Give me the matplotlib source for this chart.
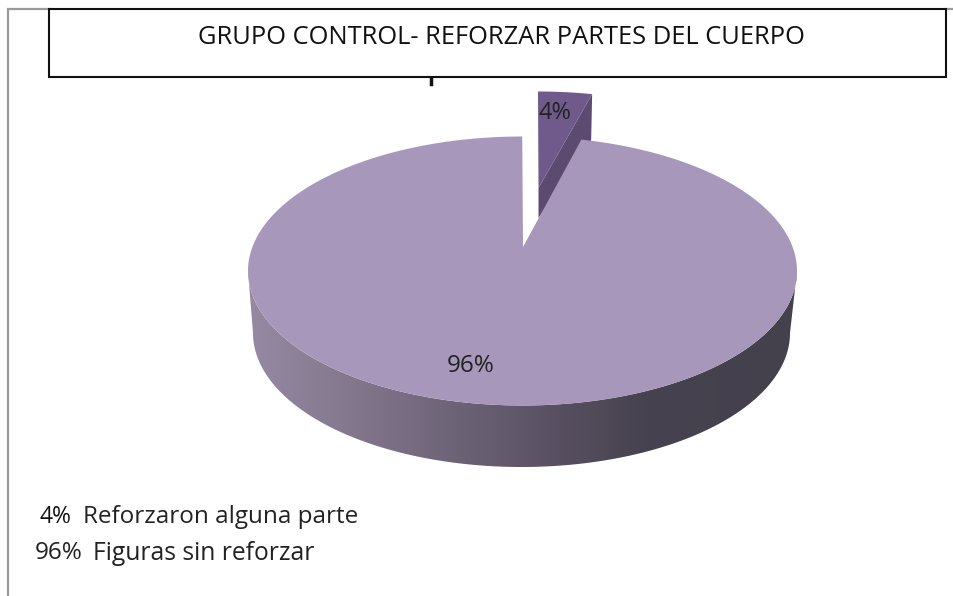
import numpy as np
import matplotlib
matplotlib.use("Agg")
import matplotlib.pyplot as plt
from matplotlib.colors import LinearSegmentedColormap
from matplotlib.patches import Polygon, Rectangle

# --- data ---
title = "GRUPO CONTROL- REFORZAR PARTES DEL CUERPO"
categories = ["Reforzaron alguna parte", "Figuras sin reforzar"]
percentages = [4, 96]

# --- styles ---
TOP_BIG = "#a798bb"
TOP_SMALL = "#705a8c"
SIDE_SMALL = "#5c4a70"
FONT = "Open Sans"
TEXT = "#222222"

fig = plt.figure(figsize=(9.54, 5.96), dpi=100)
ax = fig.add_axes([0, 0, 1, 1])
ax.axis("off")

# 3D pie geometry (pixel units)
cx, cy, rx, ry = 522.5, 271.0, 274.5, 134.5
bottom_cx, bottom_cy, bottom_rx, bottom_ry = 521.5, 333.0, 268.5, 134.0
apex = (523.0, 247.0)
sweep = np.deg2rad(percentages[0] / sum(percentages) * 360)


def ellipse(theta, x0, y0, a, b):
    # theta measured clockwise from the top
    return x0 + a * np.sin(theta), y0 - b * np.cos(theta)


# exploded small slice: side first, then top
t = np.linspace(0, sweep * 0.79, 30)
sx, sy = ellipse(t, cx + 15.5, cy - 45, rx, ry)
sx_end, sy_end = sx[-1], sy[-1]
ax.add_patch(Polygon([(sx_end, sy_end), (sx_end - 1, sy_end + 46),
                      (538.5, 218), (538.5, 188)], closed=True,
                     fc=SIDE_SMALL, ec="none", zorder=2))
ax.add_patch(Polygon(list(zip(sx, sy)) + [(538.5, 188)], closed=True,
                     fc=TOP_SMALL, ec="none", zorder=3))

# big slice wall with horizontal gradient
t = np.linspace(np.pi / 2, 3 * np.pi / 2, 200)
tx, ty = ellipse(t, cx, cy, rx, ry)
bx, by = ellipse(t, bottom_cx, bottom_cy, bottom_rx, bottom_ry)
wall_pts = np.r_[np.c_[tx, ty], np.c_[bx, by][::-1]]
wall = Polygon(wall_pts, closed=True, fc="none", ec="none", zorder=4,
               transform=ax.transData)
ax.add_patch(wall)
cmap = LinearSegmentedColormap.from_list(
    "wall", [(0.0, "#958aa3"), (0.17, "#85798f"), (0.5, "#5f5669"),
             (0.72, "#47424f"), (1.0, "#44404c")])
img = ax.imshow(np.linspace(0, 1, 256)[None, :], cmap=cmap, aspect="auto",
                extent=(248, 797, 480, 270), zorder=4, interpolation="bilinear")
img.set_clip_path(wall)

# big slice top
t = np.linspace(sweep * 0.86, 2 * np.pi - 0.001, 500)
px, py = ellipse(t, cx, cy, rx, ry)
ax.add_patch(Polygon(np.r_[np.c_[px, py], [apex]], closed=True,
                     fc=TOP_BIG, ec="none", zorder=5))

# frame lines
ax.plot([8, 8, 50], [596, 9, 9], color="#9a9a9a", lw=1.6, zorder=1,
        solid_joinstyle="miter")
ax.plot([946, 954], [9, 9], color="#9a9a9a", lw=1.6, zorder=1)
ax.plot([431, 431], [77, 84], color="#111111", lw=2.5, zorder=1)

# title box
ax.add_patch(Rectangle((49.5, 8.5), 896.5, 68.5, fc="white", ec="#111111",
                       lw=1.5, zorder=6))
ax.text(501, 38, title, ha="center", va="center", fontsize=18.4,
        family=FONT, color="#111111", zorder=7)

# data labels
ax.text(555, 113, f"{percentages[0]}%", ha="center", va="center",
        fontsize=17, family=FONT, color=TEXT, zorder=7)
ax.text(470.5, 366, f"{percentages[1]}%", ha="center", va="center",
        fontsize=17.5, family=FONT, color=TEXT, zorder=7)

# legend text
ax.text(40, 517, f"{percentages[0]}%", ha="left", va="center",
        fontsize=16.5, family=FONT, color="#111111", zorder=7)
ax.text(83, 517, categories[0], ha="left", va="center",
        fontsize=17.5, family=FONT, color=TEXT, zorder=7)
ax.text(35, 553, f"{percentages[1]}%", ha="left", va="center",
        fontsize=17.5, family=FONT, color=TEXT, zorder=7)
ax.text(93, 553, categories[1], ha="left", va="center",
        fontsize=17.7, family=FONT, color=TEXT, zorder=7)

ax.set_xlim(0, 954)
ax.set_ylim(596, 0)
fig.savefig("out.png", dpi=100, facecolor="white")
